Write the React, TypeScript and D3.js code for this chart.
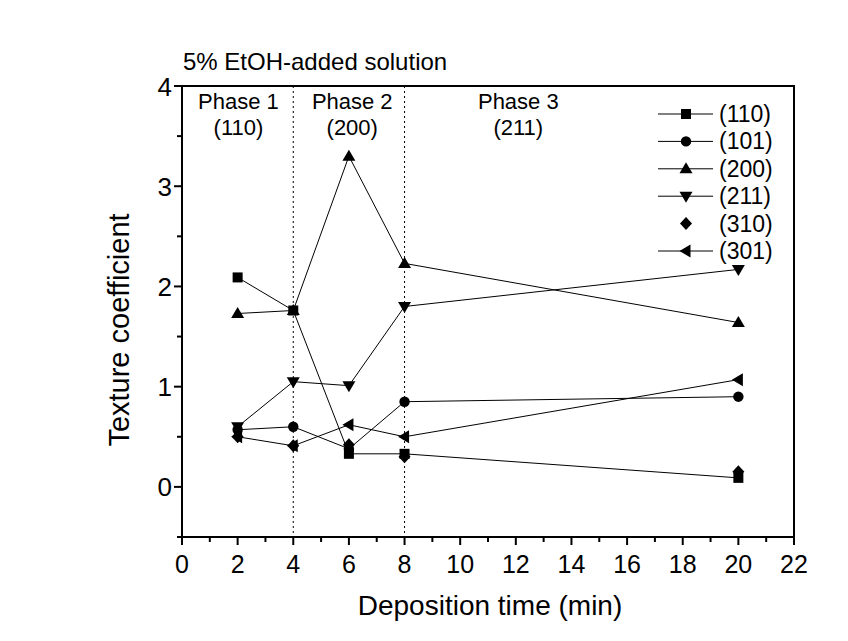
import React from "react";
import * as d3 from "d3";

const times = [2, 4, 6, 8, 20];
const s110 = [2.09, 1.76, 0.33, 0.33, 0.09];
const s101 = [0.57, 0.6, 0.38, 0.85, 0.9];
const s200 = [1.73, 1.76, 3.3, 2.23, 1.64];
const s211 = [0.6, 1.05, 1.01, 1.8, 2.17];
const s310 = [0.5, 0.41, 0.42, 0.3, 0.15];
const s301 = [0.5, 0.41, 0.62, 0.5, 1.07];

const seriesNames = ["(110)", "(101)", "(200)", "(211)", "(310)", "(301)"];
const seriesData = [s110, s101, s200, s211, s310, s301];
const seriesMarker = ["square", "circle", "triUp", "triDown", "diamond", "triLeft"];
const seriesLine = [true, true, true, true, false, true];

const xTicks = [0, 2, 4, 6, 8, 10, 12, 14, 16, 18, 20, 22];
const yTicks = [0, 1, 2, 3, 4];
const phaseBounds = [4, 8];
const phaseLabels = [
  { x: 2.03, a: "Phase 1", b: "(110)" },
  { x: 6.12, a: "Phase 2", b: "(200)" },
  { x: 12.09, a: "Phase 3", b: "(211)" },
];

const W = 848, H = 641;
const L = 182, R = 794, T = 86, B = 537;
const FONT = "'Liberation Sans', Arial, sans-serif";

function Marker({ type, x, y }: { type: string; x: number; y: number }) {
  if (type === "square") return <rect x={x - 5} y={y - 5} width={10} height={10} fill="#000" />;
  if (type === "circle") return <circle cx={x} cy={y} r={5.2} fill="#000" />;
  if (type === "triUp")
    return <path d={`M${x},${y - 6.5}L${x + 6.5},${y + 4.5}L${x - 6.5},${y + 4.5}Z`} fill="#000" />;
  if (type === "triDown")
    return <path d={`M${x},${y + 6.5}L${x + 6.5},${y - 4.5}L${x - 6.5},${y - 4.5}Z`} fill="#000" />;
  if (type === "triLeft")
    return <path d={`M${x - 6.5},${y}L${x + 4.5},${y - 6.5}L${x + 4.5},${y + 6.5}Z`} fill="#000" />;
  return <path d={`M${x},${y - 6.5}L${x + 6},${y}L${x},${y + 6.5}L${x - 6},${y}Z`} fill="#000" />;
}

export default function App() {
  const x = d3.scaleLinear().domain([0, 22]).range([L, R]);
  const y = d3.scaleLinear().domain([-0.5, 4]).range([B, T]);
  const line = d3
    .line<number>()
    .x((_, i) => x(times[i]))
    .y((d) => y(d));
  const xMinor = d3.range(0, 23, 1);
  const yMinor = d3.range(-0.5, 4.01, 0.5);

  return (
    <svg width={W} height={H} style={{ position: "absolute", left: 0, top: 0, background: "#fff" }} fontFamily={FONT}>
      <rect x={0} y={0} width={W} height={H} fill="#fff" />
      {phaseBounds.map((p) => (
        <line key={p} x1={x(p)} x2={x(p)} y1={T} y2={B} stroke="#000" strokeWidth={1} strokeDasharray="2,3" />
      ))}
      {seriesData.map((d, i) =>
        seriesLine[i] ? <path key={i} d={line(d) || ""} fill="none" stroke="#000" strokeWidth={1} /> : null
      )}
      {seriesData.map((d, i) =>
        d.map((v, j) => <Marker key={`${i}-${j}`} type={seriesMarker[i]} x={x(times[j])} y={y(v)} />)
      )}
      <rect x={L} y={T} width={R - L} height={B - T} fill="none" stroke="#000" strokeWidth={2} />
      {xMinor.map((t) => (
        <line key={t} x1={x(t)} x2={x(t)} y1={B} y2={B + (t % 2 === 0 ? 8 : 5)} stroke="#000" strokeWidth={2} />
      ))}
      {xTicks.map((t) => (
        <text key={t} x={x(t)} y={573} textAnchor="middle" fontSize={25}>
          {t}
        </text>
      ))}
      {yMinor.map((t) => (
        <line key={t} x1={L} x2={L - (Math.abs(t % 1) < 1e-6 ? 8 : 5)} y1={y(t)} y2={y(t)} stroke="#000" strokeWidth={2} />
      ))}
      {yTicks.map((t) => (
        <text key={t} x={L - 10} y={y(t) + 9.5} textAnchor="end" fontSize={26}>
          {t}
        </text>
      ))}
      <text x={490} y={615} textAnchor="middle" fontSize={28}>
        Deposition time (min)
      </text>
      <text transform={`translate(129,330) rotate(-90)`} textAnchor="middle" fontSize={29}>
        Texture coefficient
      </text>
      <text x={183} y={70} fontSize={24}>
        5% EtOH-added solution
      </text>
      {phaseLabels.map((p) => (
        <g key={p.a}>
          <text x={x(p.x)} y={109} textAnchor="middle" fontSize={22}>
            {p.a}
          </text>
          <text x={x(p.x)} y={135} textAnchor="middle" fontSize={22}>
            {p.b}
          </text>
        </g>
      ))}
      {seriesNames.map((n, i) => {
        const ly = 114 + i * 27.4;
        return (
          <g key={n}>
            {seriesLine[i] && <line x1={658} x2={713} y1={ly} y2={ly} stroke="#000" strokeWidth={1} />}
            <Marker type={seriesMarker[i]} x={686} y={ly} />
            <text x={719} y={ly + 8} fontSize={23}>
              {n}
            </text>
          </g>
        );
      })}
    </svg>
  );
}
